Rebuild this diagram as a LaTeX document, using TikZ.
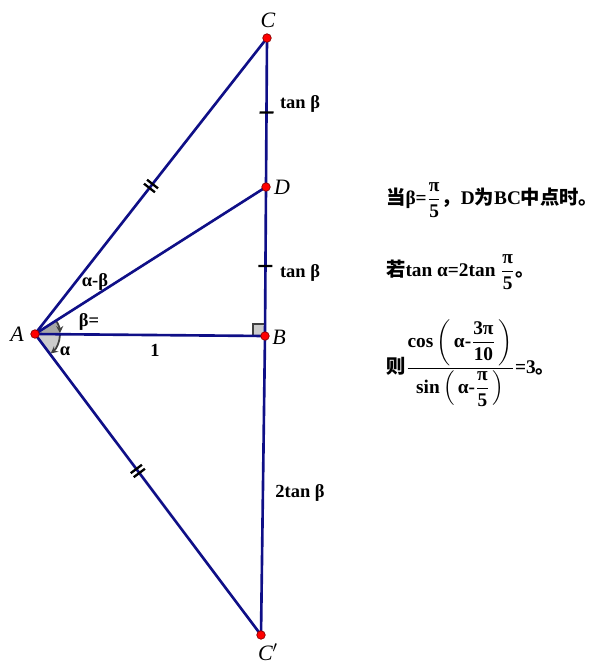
\documentclass[tikz,border=0pt]{standalone}
\usepackage{fontspec}
\usepackage{amsmath}
\setmainfont{Liberation Serif}
\newfontfamily\cjk{Noto Sans CJK SC}
\newcommand{\zh}[1]{{\cjk #1}}
\usetikzlibrary{arrows.meta}
\usetikzlibrary{decorations.markings}
\definecolor{segblue}{RGB}{15,15,135}

\tikzset{
  seg/.style={segblue, line width=1.5pt},
  pt/.style={circle, fill=red, draw=red!55!black, line width=0.4pt, inner sep=0pt, minimum size=0.17cm},
  ptlabel/.style={font=\itshape\fontsize{12.5}{14}\selectfont},
  lbl/.style={font=\bfseries\fontsize{10.5}{12}\selectfont},
  note/.style={font=\bfseries\fontsize{11}{13}\selectfont, anchor=west},
  angarrow/.style={black!75, line width=1pt, -{Stealth[length=4pt,width=4pt]}},
  onetick/.style={postaction={decorate, decoration={markings,
      mark=at position #1 with {\draw[black, line width=1.3pt] (0,-7) -- (0,7);}}}},
  twotick/.style={postaction={decorate, decoration={markings,
      mark=at position #1 with {\draw[black, line width=1.3pt] (-2.5,-7) -- (-2.5,7) (2.5,-7) -- (2.5,7);}}}},
}

\begin{document}
\begin{tikzpicture}[x=0.02cm, y=0.02cm]
  \useasboundingbox (0,0) rectangle (606,-670);

  \coordinate (A) at (35,-334);
  \coordinate (B) at (265,-336);
  \coordinate (C) at (267,-38);
  \coordinate (D) at (266,-187);
  \coordinate (Cp) at (261,-635);

  % angle marks at A
  \fill[black!35] (A) -- ++(32.5:25) arc[start angle=32.5, end angle=0, radius=25] -- cycle;
  \fill[black!20] (A) -- ++(0:25) arc[start angle=0, end angle=-53, radius=25] -- cycle;
  \draw[angarrow] ([shift={(32.5:25)}]A) arc[start angle=32.5, end angle=2, radius=25];
  \draw[angarrow] ([shift={(-2:25)}]A) arc[start angle=-2, end angle=-51, radius=25];

  % right angle at B
  \fill[black!20] (B) rectangle ++(-12,12);
  \draw[black!75, line width=1.2pt] (B) ++(-12,0) -- ++(0,12) -- ++(12,0);

  \draw[seg, twotick=0.5] (A) -- (C);
  \draw[seg, twotick=0.455] (A) -- (Cp);
  \draw[seg] (A) -- (D);
  \draw[seg] (A) -- (B);
  \draw[seg, onetick=0.5] (C) -- (D);
  \draw[seg, onetick=0.53] (D) -- (B);
  \draw[seg] (B) -- (Cp);

  \node[pt] (dotA) at (A) {};
  \node[pt] (dotB) at (B) {};
  \node[pt] (dotC) at (C) {};
  \node[pt] (dotD) at (D) {};
  \node[pt] (dotCp) at (Cp) {};

  \node[ptlabel] (labA) at (17,-334) {A};
  \node[ptlabel] (labB) at (279,-337) {B};
  \node[ptlabel] (labC) at (268,-20) {C};
  \node[ptlabel] (labD) at (282,-187) {D};
  \node[ptlabel] (labCp) at (268,-652) {C$'$};

  \node[lbl] (tan1) at (300,-104) {tan β};
  \node[lbl] (tan2) at (300,-273) {tan β};
  \node[lbl] (tan3) at (300,-493) {2tan β};
  \node[lbl] (one) at (155,-350) {1};
  \node[lbl] (amb) at (95,-282) {α-β};
  \node[lbl] (beq) at (89,-322) {β=};
  \node[lbl] (alp) at (65,-351) {α};

  \node[note] (line1) at (380,-200)
    {$\text{\zh{当}β=}\dfrac{\text{π}}{\text{5}}\text{\zh{，}D\zh{为}BC\zh{中点时。}}$};
  \node[note] (line2) at (380,-272)
    {$\text{\zh{若}tan α=2tan }\dfrac{\text{π}}{\text{5}}\text{\zh{。}}$};
  \node[note] (line3) at (380,-363)
    {$\text{\zh{则}}\dfrac{\text{cos}\left(\,\text{α-}\dfrac{\text{3π}}{\text{10}}\,\right)}{\text{sin}\left(\,\text{α-}\dfrac{\text{π}}{\text{5}}\,\right)}\text{=3\zh{。}}$};
\end{tikzpicture}
\end{document}
